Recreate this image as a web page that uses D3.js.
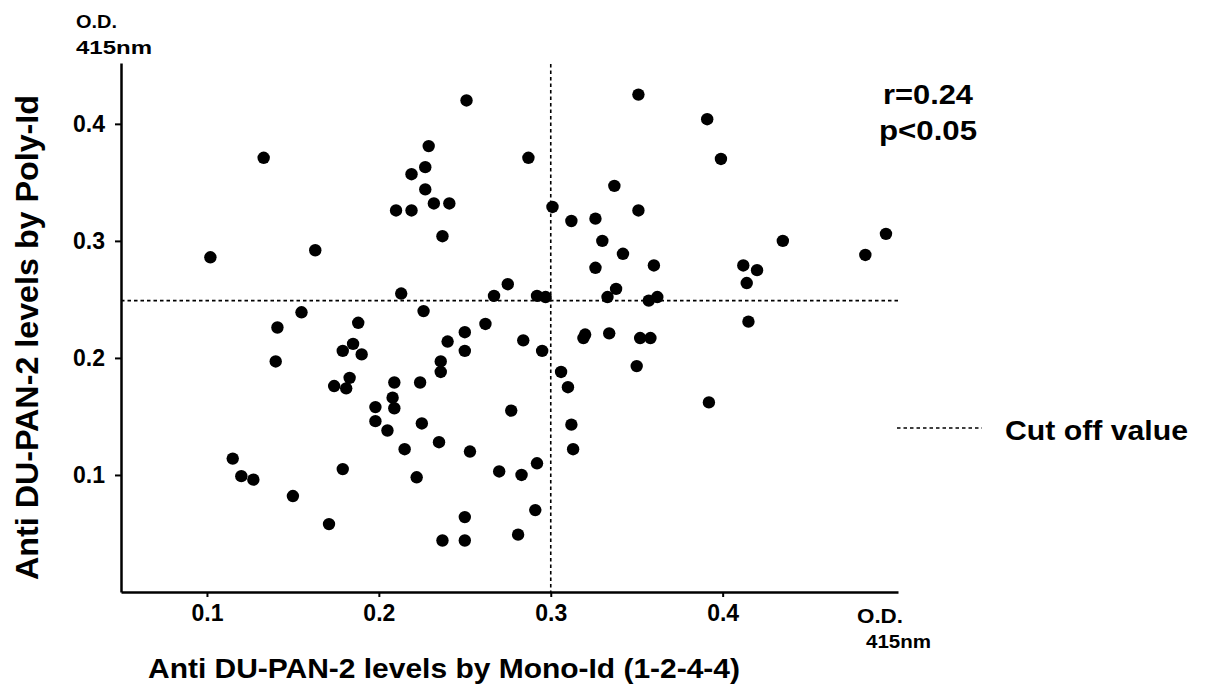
<!DOCTYPE html>
<html>
<head>
<meta charset="utf-8">
<script src="https://cdn.jsdelivr.net/npm/d3@7"></script>
<style>
    body { margin: 0; background: #fff; }
    text { font-family: "Liberation Sans", Arial, sans-serif; font-weight: bold; fill: #000; }
</style>
</head>
<body>
<script>
// Mono-Id O.D. values (x) for each patient
const monoId = [
    0.251, 0.229, 0.133, 0.287, 0.227, 0.219, 0.227, 0.232, 0.241, 0.210,
    0.219, 0.301, 0.237, 0.102, 0.163, 0.213, 0.275, 0.267, 0.292, 0.297,
    0.155, 0.226, 0.351, 0.391, 0.399, 0.337, 0.351, 0.312, 0.326, 0.330,
    0.435, 0.495, 0.342, 0.483, 0.326, 0.360, 0.412, 0.420, 0.414, 0.338,
    0.333, 0.357, 0.362, 0.141, 0.188, 0.262, 0.250, 0.240, 0.284, 0.295,
    0.185, 0.179, 0.190, 0.250, 0.140, 0.236, 0.236, 0.183, 0.174, 0.181,
    0.209, 0.224, 0.208, 0.209, 0.198, 0.198, 0.205, 0.225, 0.277, 0.215,
    0.235, 0.253, 0.115, 0.120, 0.127, 0.179, 0.222, 0.270, 0.283, 0.292,
    0.150, 0.171, 0.250, 0.291, 0.281, 0.237, 0.250, 0.415, 0.320, 0.319,
    0.334, 0.352, 0.358, 0.306, 0.310, 0.350, 0.392, 0.312, 0.313
];

// Poly-Id O.D. values (y), same order
const polyId = [
    0.420, 0.381, 0.371, 0.371, 0.363, 0.357, 0.344, 0.332, 0.332, 0.326,
    0.326, 0.329, 0.304, 0.286, 0.292, 0.255, 0.263, 0.253, 0.253, 0.252,
    0.239, 0.240, 0.425, 0.404, 0.370, 0.347, 0.326, 0.317, 0.319, 0.300,
    0.300, 0.306, 0.289, 0.288, 0.277, 0.279, 0.279, 0.275, 0.264, 0.259,
    0.252, 0.249, 0.252, 0.226, 0.230, 0.229, 0.222, 0.214, 0.215, 0.206,
    0.212, 0.206, 0.203, 0.206, 0.197, 0.197, 0.188, 0.183, 0.176, 0.174,
    0.179, 0.179, 0.166, 0.157, 0.158, 0.146, 0.138, 0.144, 0.155, 0.122,
    0.128, 0.120, 0.114, 0.099, 0.096, 0.105, 0.098, 0.103, 0.100, 0.110,
    0.082, 0.058, 0.064, 0.070, 0.049, 0.044, 0.044, 0.231, 0.220, 0.217,
    0.221, 0.217, 0.217, 0.188, 0.175, 0.193, 0.162, 0.143, 0.122
];

const xTicks = [0.1, 0.2, 0.3, 0.4];
const yTicks = [0.1, 0.2, 0.3, 0.4];
const cutOffX = 0.3;
const cutOffY = 0.249;

const width = 1205;
const height = 699;

function drawScatter() {
    const svg = d3.select("body")
        .append("svg")
        .attr("width", width)
        .attr("height", height);

    // Scales
    const x = d3.scaleLinear()
        .domain([0.05, 0.502])
        .range([121, 898]);
    const y = d3.scaleLinear()
        .domain([0, 0.452])
        .range([592, 63]);

    // Axes
    const xAxis = svg.append("g")
        .attr("transform", `translate(0,${y(0)})`)
        .call(d3.axisBottom(x).tickValues(xTicks).tickSize(5).tickPadding(8).tickSizeOuter(0)
            .tickFormat(d3.format(".1f")));
    const yAxis = svg.append("g")
        .attr("transform", `translate(${x(0.05)},0)`)
        .call(d3.axisLeft(y).tickValues(yTicks).tickSize(6).tickPadding(10).tickSizeOuter(0)
            .tickFormat(d3.format(".1f")));

    [xAxis, yAxis].forEach(g => {
        g.select(".domain").attr("stroke", "#000").attr("stroke-width", 2.5);
        g.selectAll(".tick line").attr("stroke", "#000").attr("stroke-width", 2);
        g.selectAll(".tick text")
            .attr("font-size", 23)
            .attr("font-family", "Liberation Sans, Arial, sans-serif")
            .attr("font-weight", "bold")
            .attr("fill", "#000");
    });

    // Cut off lines
    svg.append("line")
        .attr("x1", x(0.05)).attr("x2", 900)
        .attr("y1", y(cutOffY)).attr("y2", y(cutOffY))
        .attr("stroke", "#000").attr("stroke-width", 1.6)
        .attr("stroke-dasharray", "3.5,3");
    svg.append("line")
        .attr("x1", x(cutOffX)).attr("x2", x(cutOffX))
        .attr("y1", 64).attr("y2", y(0))
        .attr("stroke", "#000").attr("stroke-width", 1.6)
        .attr("stroke-dasharray", "3.5,3");

    // Points
    svg.append("g")
        .selectAll("circle")
        .data(monoId.map((d, i) => [d, polyId[i]]))
        .join("circle")
        .attr("cx", d => x(d[0]))
        .attr("cy", d => y(d[1]))
        .attr("r", 6.2)
        .attr("fill", "#000");

    // Unit labels
    svg.append("text").attr("x", 76).attr("y", 28).attr("font-size", 19)
        .attr("textLength", 41).attr("lengthAdjust", "spacingAndGlyphs").text("O.D.");
    svg.append("text").attr("x", 76).attr("y", 54).attr("font-size", 19)
        .attr("textLength", 76).attr("lengthAdjust", "spacingAndGlyphs").text("415nm");
    svg.append("text").attr("x", 857).attr("y", 623).attr("font-size", 21)
        .attr("textLength", 46).attr("lengthAdjust", "spacingAndGlyphs").text("O.D.");
    svg.append("text").attr("x", 866).attr("y", 648).attr("font-size", 19)
        .attr("textLength", 65).attr("lengthAdjust", "spacingAndGlyphs").text("415nm");

    // Statistics
    svg.append("text").attr("x", 883).attr("y", 104).attr("font-size", 27)
        .attr("textLength", 90).attr("lengthAdjust", "spacingAndGlyphs").text("r=0.24");
    svg.append("text").attr("x", 879).attr("y", 140).attr("font-size", 27)
        .attr("textLength", 98).attr("lengthAdjust", "spacingAndGlyphs").text("p<0.05");

    // Legend
    svg.append("line")
        .attr("x1", 897).attr("x2", 982)
        .attr("y1", 428).attr("y2", 428)
        .attr("stroke", "#000").attr("stroke-width", 1.6)
        .attr("stroke-dasharray", "3.5,3");
    svg.append("text").attr("x", 1005).attr("y", 440).attr("font-size", 27)
        .attr("textLength", 183).attr("lengthAdjust", "spacingAndGlyphs").text("Cut off value");

    // Axis titles
    svg.append("text")
        .attr("x", 148).attr("y", 678)
        .attr("font-size", 28)
        .attr("textLength", 592).attr("lengthAdjust", "spacingAndGlyphs")
        .text("Anti DU-PAN-2 levels by Mono-Id (1-2-4-4)");
    svg.append("text")
        .attr("transform", "translate(38,580) rotate(-90)")
        .attr("font-size", 31)
        .attr("textLength", 485).attr("lengthAdjust", "spacingAndGlyphs")
        .text("Anti DU-PAN-2 levels by Poly-Id");
}

drawScatter();
</script>
</body>
</html>
